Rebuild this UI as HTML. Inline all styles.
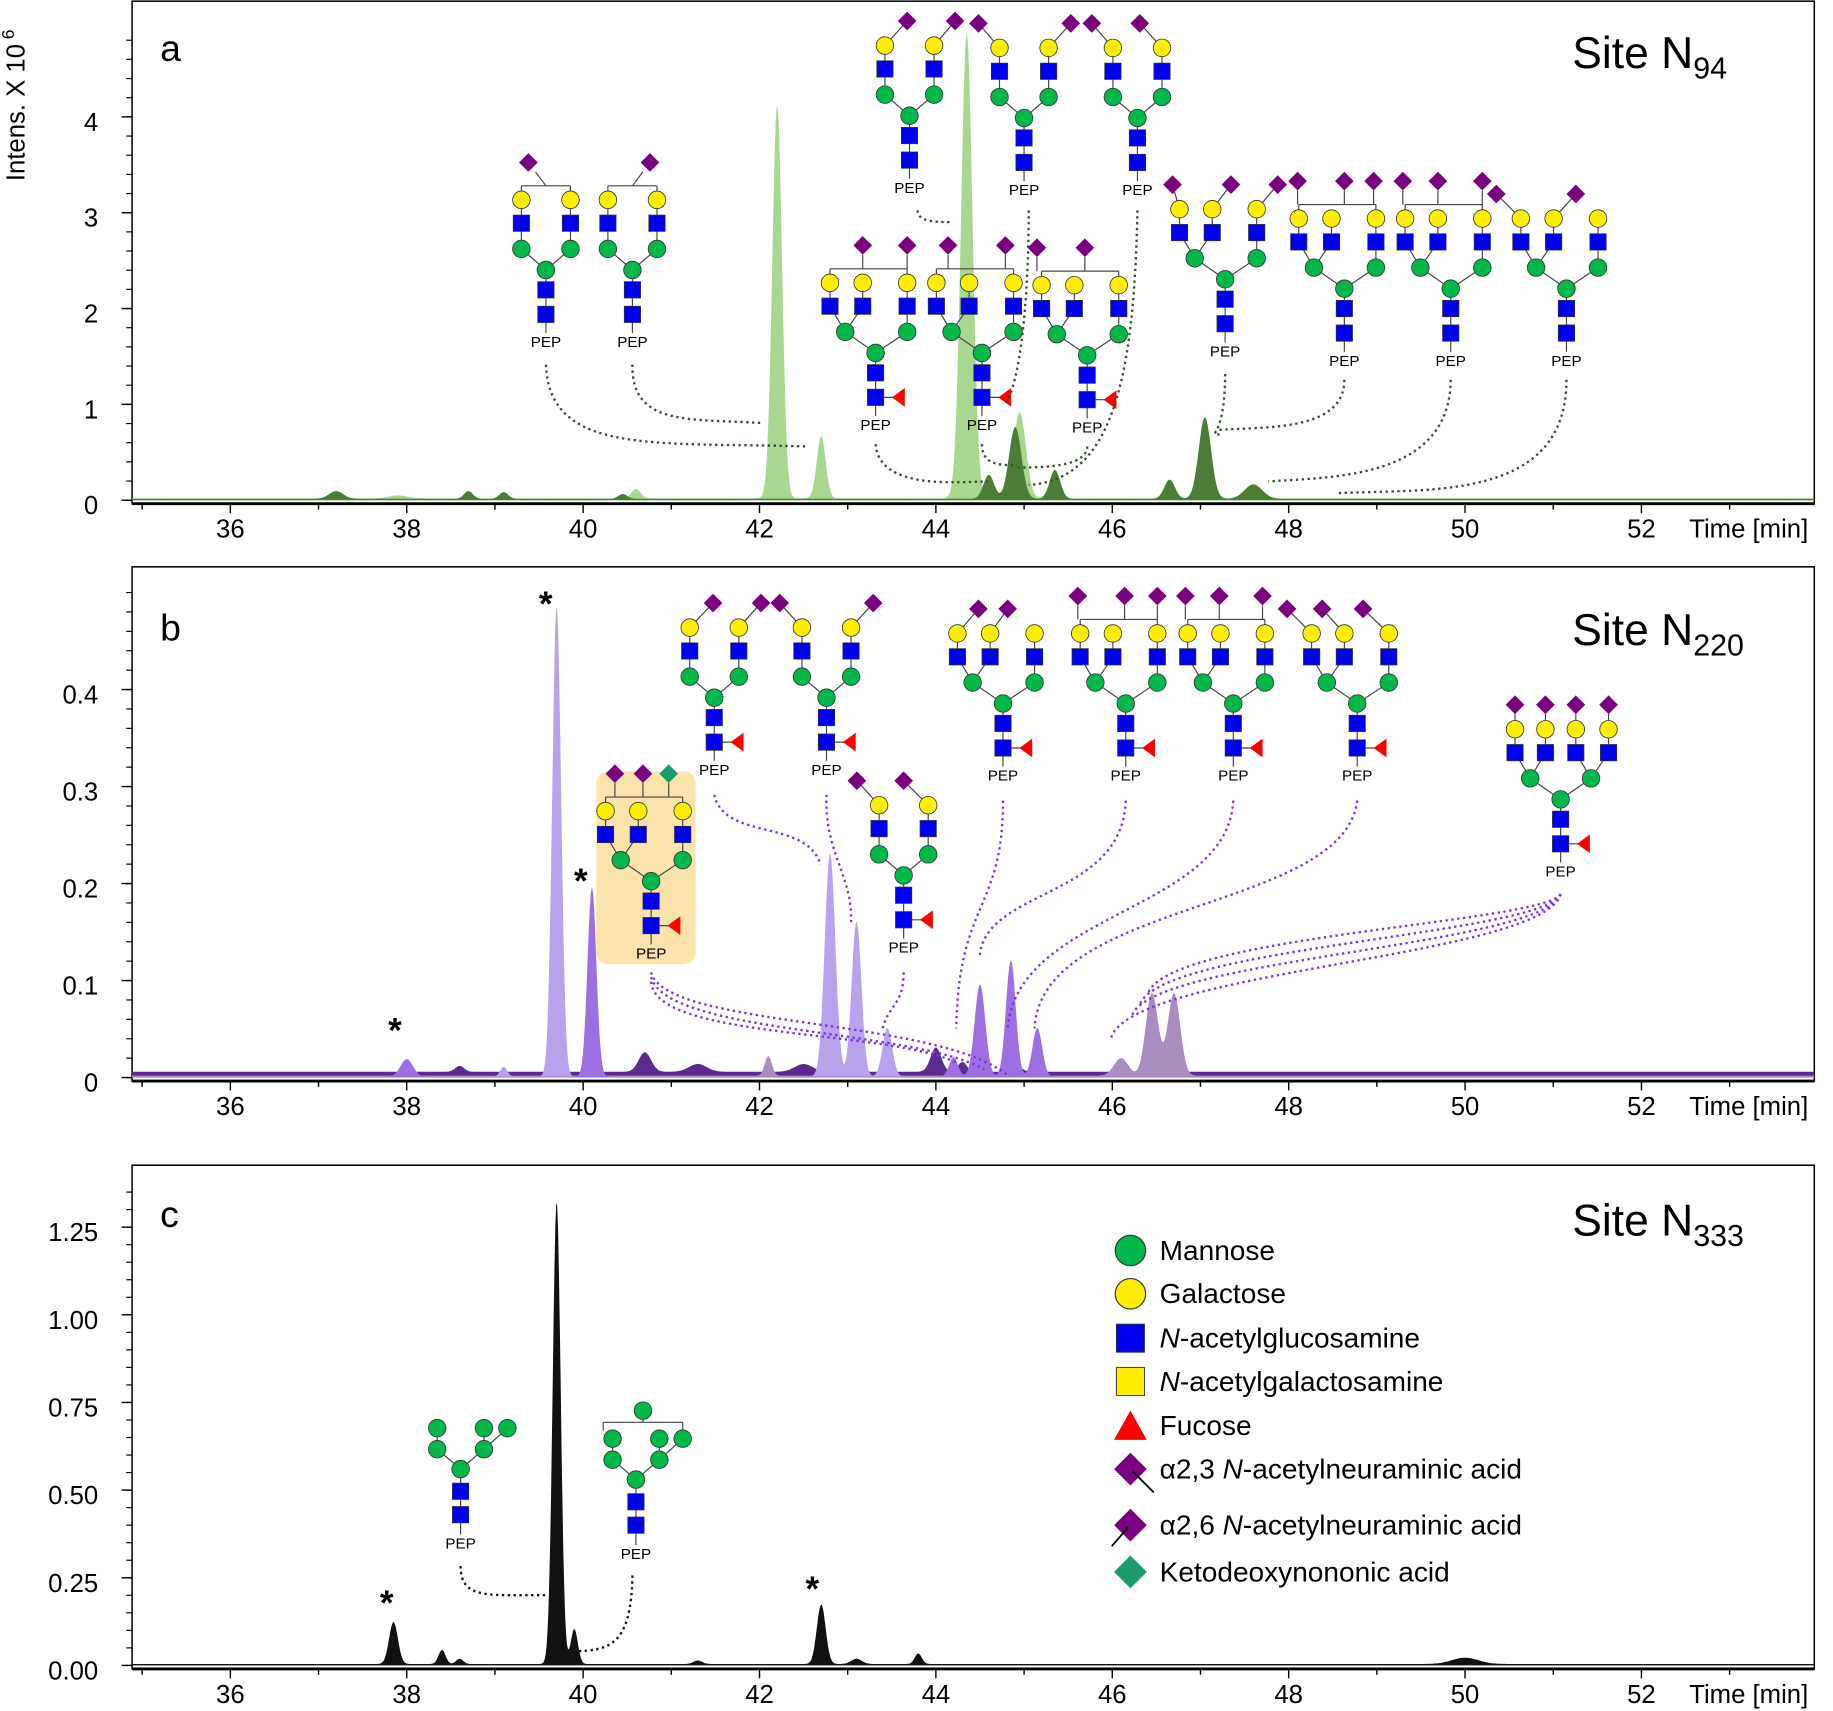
<!DOCTYPE html>
<html><head><meta charset="utf-8"><style>
html,body{margin:0;padding:0;background:#fff}
svg{display:block;font-family:"Liberation Sans",sans-serif}
</style></head><body>
<svg id="s" width="1833" height="1711" viewBox="0 0 1568 1464" preserveAspectRatio="none" xmlns="http://www.w3.org/2000/svg"></svg>
<script>
// ---------- data ----------
const aLightCenters=[40.6,42.2,42.7,44.35,44.95,37.9];
const aLightHeights=[0.1,4.1,0.65,4.85,0.9,0.03];
const aLightWidths=[0.05,0.055,0.05,0.065,0.07,0.1];
const aDarkCenters=[37.2,38.7,39.1,40.45,44.6,44.9,45.35,46.65,47.05,47.6];
const aDarkHeights=[0.08,0.08,0.07,0.05,0.25,0.75,0.3,0.2,0.85,0.15];
const aDarkWidths=[0.08,0.05,0.05,0.05,0.06,0.07,0.06,0.06,0.07,0.1];
const bLightCenters=[39.7,42.8,43.1,43.45,39.1];
const bLightHeights=[0.485,0.23,0.16,0.05,0.01];
const bLightWidths=[0.05,0.06,0.055,0.055,0.04];
const bMidCenters=[38.0,40.1,44.2,44.5,44.85,45.15];
const bMidHeights=[0.018,0.195,0.02,0.095,0.12,0.05];
const bMidWidths=[0.07,0.05,0.05,0.06,0.055,0.055];
const bGreyCenters=[42.1,46.1,46.45,46.7];
const bGreyHeights=[0.02,0.018,0.085,0.085];
const bGreyWidths=[0.04,0.08,0.07,0.07];
const bDarkCenters=[38.6,40.7,41.3,42.5,44.0,44.3,44.9];
const bDarkHeights=[0.006,0.02,0.008,0.008,0.025,0.01,0.008];
const bDarkWidths=[0.05,0.07,0.1,0.1,0.06,0.05,0.06];
const cCenters=[37.85,38.4,38.6,39.7,39.9,41.3,42.7,43.1,43.8,50.0];
const cHeights=[0.12,0.04,0.015,1.32,0.1,0.01,0.17,0.015,0.03,0.018];
const cWidths=[0.05,0.04,0.04,0.045,0.04,0.05,0.05,0.06,0.04,0.15];
const xTicks=[36,38,40,42,44,46,48,50,52];
const aYTicks=[0,1,2,3,4];
const bYTicks=[0,0.1,0.2,0.3,0.4];
const bYLabels=["0","0.1","0.2","0.3","0.4"];
const cYTicks=[0,0.25,0.5,0.75,1.0,1.25];
const cYLabels=["0.00","0.25","0.50","0.75","1.00","1.25"];

const NS="http://www.w3.org/2000/svg";
const S=document.getElementById('s');
function mk(tag,attrs,parent){const e=document.createElementNS(NS,tag);for(const k in attrs)e.setAttribute(k,attrs[k]);(parent||S).appendChild(e);return e;}
const X0=34.886,X1=53.96,PL=113,PR=1552;
function xs(t){return PL+(t-X0)/(X1-X0)*(PR-PL);}

function panel(name,top,base,ppu,ticks,labels,minor,maxV){
  const g=mk('g',{});
  
  
  const fr=mk('rect',{x:PL,y:top,width:PR-PL,height:base-top+3,fill:'none',stroke:'#000','stroke-width':1.3},g);
  
  
  mk('line',{x1:PL,y1:base+3,x2:PR,y2:base+3,stroke:'#000','stroke-width':2.5},g);
  for(let v=0;v<=maxV+1e-9;v+=minor){const y=base-v*ppu;mk('line',{x1:PL-5,y1:y,x2:PL,y2:y,stroke:'#000','stroke-width':1},g);}
  ticks.forEach((v,i)=>{const y=base-v*ppu;mk('line',{x1:PL-9,y1:y,x2:PL,y2:y,stroke:'#000','stroke-width':1.2},g);
    const t=mk('text',{x:84,y:y+12,'text-anchor':'end','font-size':22},g);t.textContent=labels[i];
    
    });
  for(let m=35;m<=53;m++){mk('line',{x1:xs(m),y1:base+3,x2:xs(m),y2:base+(m%2==0?11:8),stroke:'#000','stroke-width':1.2},g);}
  xTicks.forEach(v=>{const t=mk('text',{x:xs(v),y:base+32,'text-anchor':'middle','font-size':22},g);t.textContent=v;
    
    });
  const tl=mk('text',{x:1445,y:base+32,'font-size':22},g);tl.textContent='Time [min]';
  
  
  return g;
}
function series(name,base,ppu,cs,hs,ws,fill,floor){
  let d='M'+xs(X0)+','+base;
  for(let t=X0;t<=X1;t+=0.01){let v=floor;for(let i=0;i<cs.length;i++)v+=hs[i]*Math.exp(-Math.pow(t-cs[i],2)/(2*ws[i]*ws[i]));
    d+=' L'+xs(t).toFixed(1)+','+(base-v*ppu).toFixed(1);}
  d+=' L'+xs(X1)+','+base+' Z';
  const p=mk('path',{d:d,fill:fill,stroke:'none'});
  
  
}
const A=panel('panel-a',1,428,82,aYTicks,aYTicks.map(String),0.2,4.9);
const B=panel('panel-b',485,922,830,bYTicks,bYLabels,0.02,0.5);
const C=panel('panel-c',997,1425,300,cYTicks,cYLabels,0.05,1.35);
series('series-a-light',428,82,aLightCenters,aLightHeights,aLightWidths,'#a8d890',0.02);
series('series-a-dark',428,82,aDarkCenters,aDarkHeights,aDarkWidths,'#4b7d36',0.015);
series('series-b-dark',922,830,bDarkCenters,bDarkHeights,bDarkWidths,'#5b2a8e',0.006);
series('series-b-grey',922,830,bGreyCenters,bGreyHeights,bGreyWidths,'#a98cc0',0.002);
series('series-b-light',922,830,bLightCenters,bLightHeights,bLightWidths,'#b9a2ec',0.001);
series('series-b-mid',922,830,bMidCenters,bMidHeights,bMidWidths,'#9c6fe2',0.001);
series('series-c',1425,300,cCenters,cHeights,cWidths,'#111',0.004);

function txt(x,y,s,size,name,extra){const t=mk('text',Object.assign({x:x,y:y,'font-size':size},extra||{}));t.textContent=s;
  
  return t;}
txt(137,52,'a',32,'panel-label-a');txt(137,548,'b',32,'panel-label-b');txt(137,1050,'c',32,'panel-label-c');
function site(x,y,sub,name){const t=txt(x,y,'Site N',38,name);const ts=mk('tspan',{'font-size':26,dy:9},t);ts.textContent=sub;}
site(1345,58,'94','site-title-a');site(1345,552,'220','site-title-b');site(1345,1057,'333','site-title-c');
const yt=txt(0,0,'Intens. X 10',22,'y-axis-title',{transform:'translate(21,155) rotate(-90)'});
const sup=mk('tspan',{'font-size':15,dy:-9,dx:4},yt);sup.textContent='6';
[[469,527],[499,764],[340,892],[333,1382],[697,1370]].forEach(p=>txt(p[0]-8,p[1],'*',30,'asterisk-marker',{'font-weight':'bold'}));

// ---------- glycans ----------
const BLUE='#0000f0',GREEN='#00b84a',YEL='#ffee00',PUR='#7a0080',KDN='#1a9c6a',RED='#ff0000';
function sq(g,x,y){mk('rect',{x:x-7,y:y-7,width:14,height:14,fill:BLUE,stroke:'#333','stroke-width':0.6},g);}
function ci(g,x,y,c){mk('circle',{cx:x,cy:y,r:7.5,fill:c,stroke:'#333','stroke-width':0.7},g);}
function di(g,x,y,c){mk('polygon',{points:`${x},${y-8} ${x+8},${y} ${x},${y+8} ${x-8},${y}`,fill:c||PUR},g);}
function ln(g,x1,y1,x2,y2){mk('line',{x1:x1,y1:y1,x2:x2,y2:y2,stroke:'#444','stroke-width':1},g);}
const TYPES={bi:{mans:[-21,21],ant:[-21,21],am:[0,1]},tri:{mans:[-26,27],ant:[-39,-11,27],am:[0,0,1]},tetra:{mans:[-26,26],ant:[-39,-13,13,41],am:[0,0,1,1]}};
function glycan(cx,py,type,o){
  const g=mk('g',{});
  
  
  const T=TYPES[type];
  const t=mk('text',{x:cx,y:py,'text-anchor':'middle','font-size':13},g);t.textContent='PEP';
  ln(g,cx,py-12,cx,py-66);
  T.mans.forEach(m=>ln(g,cx,py-66,cx+m,py-84));
  T.ant.forEach((a,i)=>{ln(g,cx+T.mans[T.am[i]],py-84,cx+a,py-106);ln(g,cx+a,py-106,cx+a,py-126);});
  if(o.fuc){ln(g,cx,py-28,cx+20,py-28);mk('polygon',{points:`${cx+14},${py-28} ${cx+25},${py-36} ${cx+25},${py-20}`,fill:RED},g);}
  if(o.br){const L=cx+T.ant[0],R=cx+T.ant[T.ant.length-1];ln(g,L,py-138,R,py-138);ln(g,L,py-138,L,py-132);ln(g,R,py-138,R,py-132);
    o.br.forEach((d,i)=>{ln(g,cx+d+(o.br.length==1?(d<0?6:-6):0),py-150,cx+(o.br.length==1?0:d),py-138);di(g,cx+d,py-158,(o.col&&o.col[i])||PUR);});}
  if(o.dir){o.dir.forEach(p=>{ln(g,cx+p[0],py-126,cx+p[1],py-147);di(g,cx+p[1],py-147);});}
  sq(g,cx,py-28);sq(g,cx,py-49);ci(g,cx,py-66,GREEN);
  T.mans.forEach(m=>ci(g,cx+m,py-84,GREEN));
  T.ant.forEach(a=>{sq(g,cx+a,py-106);ci(g,cx+a,py-126,YEL);});
}
const hb=mk('rect',{x:510,y:660,width:85,height:165,rx:10,fill:'#fbe3ac'});


glycan(467,297,'bi',{br:[-15]});
glycan(541,297,'bi',{br:[15]});
glycan(778,165,'bi',{dir:[[-21,-2],[21,39]]});
glycan(876,167,'bi',{dir:[[-21,-39],[21,40]]});
glycan(973,167,'bi',{dir:[[-21,-39],[21,2]]});
glycan(749,368,'tri',{fuc:1,br:[-11,27]});
glycan(840,368,'tri',{fuc:1,br:[-29,20]});
glycan(930,370,'tri',{fuc:1,br:[-43,-2]});
glycan(1048,305,'tri',{dir:[[-39,-45],[-11,5],[27,45]]});
glycan(1150,313,'tri',{br:[-40,0,25]});
glycan(1241,313,'tri',{br:[-41,-11,27]});
glycan(1340,313,'tri',{dir:[[-39,-60],[-11,8]]});
glycan(611,663,'bi',{fuc:1,dir:[[-21,-1],[21,40]]});
glycan(707,663,'bi',{fuc:1,dir:[[-21,-40],[21,40]]});
glycan(773,815,'bi',{fuc:1,dir:[[-21,-40],[21,0]]});
glycan(557,820,'tri',{fuc:1,br:[-31,-7,15],col:[PUR,PUR,KDN]});
glycan(858,668,'tri',{fuc:1,dir:[[-39,-21],[-11,4]]});
glycan(963,668,'tri',{fuc:1,br:[-41,-1,27]});
glycan(1055,668,'tri',{fuc:1,br:[-41,-12,25]});
glycan(1161,668,'tri',{fuc:1,dir:[[-39,-60],[-11,-30],[27,5]]});
glycan(1335,750,'tetra',{fuc:1,dir:[[-39,-39],[-13,-13],[13,13],[41,41]]});
function hm(cx,py,circ,links,br){
  const g=mk('g',{});
  
  
  const t=mk('text',{x:cx,y:py,'text-anchor':'middle','font-size':13},g);t.textContent='PEP';
  ln(g,cx,py-12,cx,py-68);
  links.forEach(l=>ln(g,cx+circ[l[0]][0],py+circ[l[0]][1],cx+circ[l[1]][0],py+circ[l[1]][1]));
  if(br){ln(g,cx-28,py-117,cx+40,py-117);ln(g,cx-28,py-117,cx-28,py-110);ln(g,cx+40,py-117,cx+40,py-110);ln(g,cx+6,py-117,cx+6,py-127);}
  sq(g,cx,py-29);sq(g,cx,py-49);
  circ.forEach(c=>ci(g,cx+c[0],py+c[1],GREEN));
}
hm(394,1325,[[0,-68],[-20,-85],[20,-85],[-20,-103],[20,-103],[40,-103]],[[0,1],[0,2],[1,3],[2,4],[2,5]],false);
hm(544,1334,[[0,-68],[-20,-85],[20,-85],[-20,-103],[20,-103],[40,-103],[6,-127]],[[0,1],[0,2],[1,3],[2,4],[2,5]],true);

function lead(d,c,name){const p=mk('path',{d:d,fill:'none',stroke:c,'stroke-width':2,'stroke-dasharray':'2 3'});
  
  }
const GL='#33502a',PL2='#7a2ff0';
['M467,312 C470,390 560,378 690,382','M541,312 C540,365 590,358 652,362','M785,180 C785,190 800,190 815,190',
 'M749,380 C752,420 820,412 845,412','M840,380 C840,398 855,398 870,398','M880,180 C880,260 872,330 860,345',
 'M930,382 C930,400 890,400 870,400','M973,180 C970,330 950,410 880,415','M1048,320 C1048,380 1030,370 1045,372',
 'M1150,325 C1150,370 1080,365 1040,368','M1241,325 C1240,410 1140,408 1085,412','M1340,325 C1340,430 1220,418 1145,422'
].forEach(d=>lead(d,GL,'leader-line-a'));
['M611,680 C620,720 690,700 702,740','M707,680 C705,730 730,750 728,790','M773,832 C773,860 760,860 755,880',
 'M557,832 C570,880 800,870 862,920','M557,836 C570,885 780,880 842,915','M557,840 C560,890 760,880 820,910',
 'M858,685 C858,780 820,770 818,880','M963,685 C960,770 840,760 838,820','M1055,685 C1050,780 870,780 862,880',
 'M1161,685 C1150,780 890,770 885,880','M1335,765 C1320,790 1000,800 982,850','M1335,765 C1320,800 990,810 975,860',
 'M1335,765 C1320,810 980,820 968,870','M1335,765 C1320,820 960,830 950,890'
].forEach(d=>lead(d,PL2,'leader-line-b'));
['M394,1340 C394,1370 420,1364 468,1365','M541,1348 C540,1410 520,1412 490,1413'].forEach(d=>lead(d,'#111','leader-line-c'));

const LG=mk('g',{});


const legItems=[['Mannose','ci',GREEN],['Galactose','ci',YEL],['N-acetylglucosamine','sq',BLUE],['N-acetylgalactosamine','sq',YEL],['Fucose','tri',RED],['α2,3 N-acetylneuraminic acid','di',PUR],['α2,6 N-acetylneuraminic acid','di',PUR],['Ketodeoxynononic acid','di',KDN]];
const legY=[1070,1107,1145,1182,1220,1257,1305,1345];
legItems.forEach((it,i)=>{
  const y=legY[i],x=967;const e=mk('g',{},LG);
  
  
  if(it[1]=='ci')mk('circle',{cx:x,cy:y,r:13,fill:it[2],stroke:'#333','stroke-width':1},e);
  if(it[1]=='sq')mk('rect',{x:x-12,y:y-12,width:24,height:24,fill:it[2],stroke:'#333','stroke-width':0.8},e);
  if(it[1]=='tri')mk('polygon',{points:`${x},${y-13} ${x+14},${y+12} ${x-14},${y+12}`,fill:it[2]},e);
  if(it[1]=='di'){mk('polygon',{points:`${x},${y-14} ${x+14},${y} ${x},${y+14} ${x-14},${y}`,fill:it[2]},e);
    if(i==5)mk('line',{x1:x+2,y1:y+2,x2:x+20,y2:y+20,stroke:'#000','stroke-width':1.5},e);
    if(i==6)mk('line',{x1:x-2,y1:y+2,x2:x-16,y2:y+18,stroke:'#000','stroke-width':1.5},e);}
  const t=mk('text',{x:992,y:y+8,'font-size':24},e);
  const nm=it[0];
  if(nm.indexOf('N-')>=0){const k=nm.indexOf('N-');t.appendChild(document.createTextNode(nm.slice(0,k)));
    const ii=mk('tspan',{'font-style':'italic'},t);ii.textContent='N';t.appendChild(document.createTextNode(nm.slice(k+1)));}
  else t.textContent=nm;
});
</script>
</body></html>
